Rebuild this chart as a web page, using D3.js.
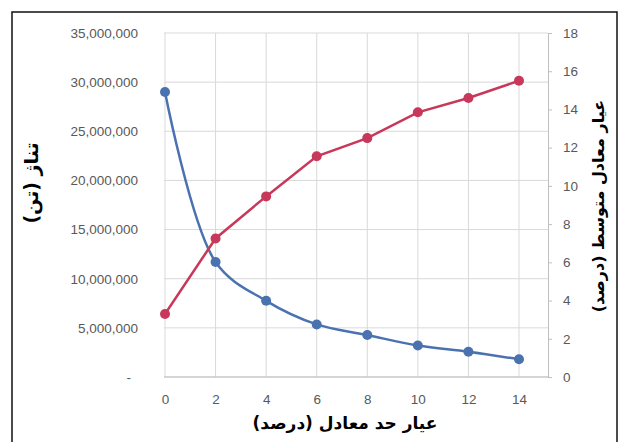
<!DOCTYPE html>
<html>
<head>
<meta charset="utf-8">
<script src="https://cdn.jsdelivr.net/npm/d3@7"></script>
<style>
  body { margin: 0; background: #fff; }
  svg { display: block; }
</style>
</head>
<body>
<div id="chart"></div>
<script>
// data
const grades = [0, 2, 4, 6, 8, 10, 12, 14];
const tonnage = [29000000, 11700000, 7750000, 5350000, 4270000, 3200000, 2570000, 1800000];
const avgGrade = [3.3, 7.25, 9.45, 11.55, 12.5, 13.85, 14.6, 15.5];
const leftTicks = [0, 5000000, 10000000, 15000000, 20000000, 25000000, 30000000, 35000000];
const rightTicks = [0, 2, 4, 6, 8, 10, 12, 14, 16, 18];
const xTicks = [0, 2, 4, 6, 8, 10, 12, 14];

const W = 619, H = 442;
const plot = { left: 164, right: 548, top: 33, bottom: 377 };

const svg = d3.select("#chart").append("svg").attr("width", W).attr("height", H);

// outer frame
svg.append("rect")
  .attr("x", 12).attr("y", 12)
  .attr("width", 605).attr("height", 450)
  .attr("fill", "none").attr("stroke", "#111").attr("stroke-width", 1.5);

const x = d3.scaleLinear().domain([0, 14]).range([165, 519]);
const yL = d3.scaleLinear().domain([0, 35000000]).range([plot.bottom, plot.top]);
const yR = d3.scaleLinear().domain([0, 18]).range([plot.bottom, plot.top]);

const tickFont = "'Liberation Sans', Arial, sans-serif";

// gridlines
svg.append("g").selectAll("line").data(leftTicks).join("line")
  .attr("x1", plot.left).attr("x2", plot.right)
  .attr("y1", (d) => yL(d)).attr("y2", (d) => yL(d))
  .attr("stroke", "#d9d9d9").attr("stroke-width", 1);
svg.append("g").selectAll("line").data(xTicks).join("line")
  .attr("x1", (d) => x(d)).attr("x2", (d) => x(d))
  .attr("y1", plot.top).attr("y2", plot.bottom)
  .attr("stroke", "#d9d9d9").attr("stroke-width", 1);

// x axis
const xAxis = svg.append("g")
  .attr("transform", `translate(0,${plot.bottom})`)
  .call(d3.axisBottom(x).tickValues(xTicks).tickSize(0).tickPadding(17));
xAxis.select(".domain").remove();
svg.append("line")
  .attr("x1", plot.left).attr("x2", plot.right)
  .attr("y1", plot.bottom).attr("y2", plot.bottom)
  .attr("stroke", "#bfbfbf");

// left axis
const leftAxis = svg.append("g")
  .attr("transform", `translate(${plot.left},0)`)
  .call(d3.axisLeft(yL).tickValues(leftTicks).tickSize(0).tickPadding(26)
    .tickFormat((d) => (d === 0 ? "-" : d3.format(",")(d))));
leftAxis.select(".domain").remove();
leftAxis.selectAll(".tick").filter((d) => d === 0).select("text").attr("dx", -7);

// right axis
const rightAxis = svg.append("g")
  .attr("transform", `translate(${plot.right},0)`)
  .call(d3.axisRight(yR).tickValues(rightTicks).tickSize(4).tickSizeOuter(0).tickPadding(11));
rightAxis.select(".domain").attr("stroke", "#bfbfbf");
rightAxis.selectAll(".tick line").attr("stroke", "#bfbfbf");

svg.selectAll(".tick text")
  .attr("fill", "#595959")
  .style("font-family", tickFont)
  .style("font-size", "13.5px");

// series
const blue = "#4a72b0";
const red = "#c8385a";

const blueLine = d3.line()
  .x((d, i) => x(grades[i]))
  .y((d) => yL(d))
  .curve(d3.curveCatmullRom.alpha(0.5));
svg.append("path").datum(tonnage)
  .attr("d", blueLine)
  .attr("fill", "none").attr("stroke", blue).attr("stroke-width", 2.5);
svg.append("g").selectAll("circle").data(tonnage).join("circle")
  .attr("cx", (d, i) => x(grades[i])).attr("cy", (d) => yL(d))
  .attr("r", 5).attr("fill", blue);

const redLine = d3.line()
  .x((d, i) => x(grades[i]))
  .y((d) => yR(d));
svg.append("path").datum(avgGrade)
  .attr("d", redLine)
  .attr("fill", "none").attr("stroke", red).attr("stroke-width", 2.5);
svg.append("g").selectAll("circle").data(avgGrade).join("circle")
  .attr("cx", (d, i) => x(grades[i])).attr("cy", (d) => yR(d))
  .attr("r", 5).attr("fill", red);

// titles
const titleFont = "'DejaVu Sans', sans-serif";
svg.append("text")
  .attr("x", 345).attr("y", 429)
  .attr("text-anchor", "middle")
  .attr("direction", "rtl")
  .style("font-family", titleFont).style("font-weight", "bold").style("font-size", "17px")
  .text("عیار حد معادل (درصد)");

svg.append("text")
  .attr("transform", "translate(38,183) rotate(-90)")
  .attr("text-anchor", "middle")
  .attr("direction", "rtl")
  .style("font-family", titleFont).style("font-weight", "bold").style("font-size", "19px")
  .text("تناژ (تن)");

svg.append("text")
  .attr("transform", "translate(604,206) rotate(-90)")
  .attr("text-anchor", "middle")
  .attr("direction", "rtl")
  .style("font-family", titleFont).style("font-weight", "bold").style("font-size", "16px")
  .text("عیار معادل متوسط (درصد)");
</script>
</body>
</html>
